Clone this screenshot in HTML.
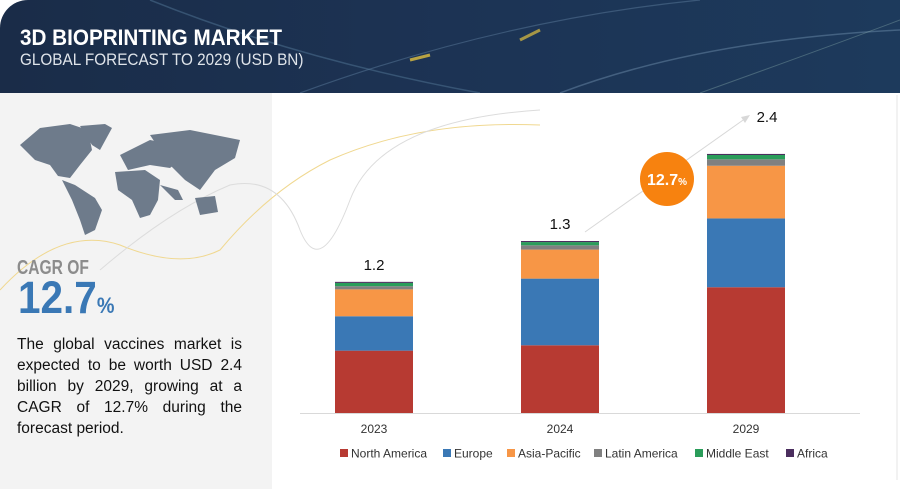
<!DOCTYPE html>
<html><head><meta charset="utf-8">
<style>
html,body{margin:0;padding:0;background:#fff;}
body{width:900px;height:489px;position:relative;overflow:hidden;font-family:"Liberation Sans",sans-serif;}
#header{position:absolute;left:0;top:0;width:900px;height:93px;background:linear-gradient(90deg,#1a2c48,#1c3354 50%,#1d3a5c);border-top-left-radius:28px;overflow:hidden;}
#left{position:absolute;left:0;top:93px;width:272px;height:396px;background:#f3f3f3;}
.t1{position:absolute;left:20px;top:25px;color:#fff;font-weight:bold;font-size:22px;transform:scaleX(0.94);transform-origin:0 0;white-space:nowrap;}
.t2{position:absolute;left:20px;top:50px;color:#dfe4ea;font-size:17px;transform:scaleX(0.9);transform-origin:0 0;white-space:nowrap;}
.cagr{position:absolute;left:17px;top:257px;color:#8c8c8c;font-size:20px;font-weight:bold;transform:scaleX(0.78);transform-origin:0 0;white-space:nowrap;}
.big{position:absolute;left:18px;top:274px;color:#3a78b5;font-size:45px;font-weight:bold;transform:scaleX(0.9);transform-origin:0 0;white-space:nowrap;line-height:48px;}
.big span{font-size:22px;}
.desc{position:absolute;left:17px;top:334px;width:225px;font-size:15.5px;line-height:21px;color:#111;text-align:justify;}
</style></head><body>
<div id="header">
<svg width="900" height="93" style="position:absolute;left:0;top:0">
<path d="M150 0 Q300 60 480 93" stroke="#4a6a8a" stroke-width="1.5" fill="none" opacity="0.6"/>
<path d="M300 93 Q500 20 700 0" stroke="#5a7a9a" stroke-width="1.2" fill="none" opacity="0.5"/>
<path d="M560 93 Q700 40 900 30" stroke="#6a8aa8" stroke-width="1.5" fill="none" opacity="0.5"/>
<path d="M700 93 Q820 50 900 20" stroke="#8aa" stroke-width="1" fill="none" opacity="0.4"/>
<path d="M410 60 L430 55" stroke="#e0c040" stroke-width="3" opacity="0.8"/>
<path d="M520 40 L540 30" stroke="#e0c040" stroke-width="3" opacity="0.7"/>
</svg>
<div class="t1">3D BIOPRINTING MARKET</div>
<div class="t2">GLOBAL FORECAST TO 2029 (USD BN)</div>
</div>
<div id="left"></div>
<svg width="900" height="489" style="position:absolute;left:0;top:0">
<path d="M0 290 Q60 225 120 245 Q180 270 220 250 Q270 190 330 160 Q420 120 540 125" stroke="#f0d890" stroke-width="1" fill="none"/>
<path d="M100 270 Q170 210 230 185 Q280 175 300 230 Q320 280 350 200 Q380 120 540 110" stroke="#dcdcdc" stroke-width="1" fill="none"/>
<g fill="#6e7b8b">
<path d="M20 145 L40 128 L70 124 L88 130 L92 150 L80 165 L70 178 L58 176 L50 165 L35 160 Z"/>
<path d="M80 126 L105 124 L112 128 L100 150 L92 145 Z"/>
<path d="M62 180 L75 185 L95 198 L102 210 L95 230 L85 235 L80 220 L72 200 Z"/>
<path d="M120 155 L150 140 L175 145 L180 160 L170 168 L150 165 L128 170 Z"/>
<path d="M150 135 L190 130 L240 140 L235 158 L215 170 L200 190 L185 180 L170 165 Z"/>
<path d="M115 172 L145 170 L160 180 L158 200 L150 215 L140 218 L132 200 L118 190 Z"/>
<path d="M195 198 L215 196 L218 212 L200 215 Z"/>
<path d="M160 185 L178 190 L183 200 L175 200 Z"/>
</g>
<line x1="585" y1="232" x2="746" y2="118" stroke="#d8d8d8" stroke-width="1"/>
<polygon points="750,115 741,117 745,123" fill="#d8d8d8"/>
<line x1="897" y1="95" x2="897" y2="480" stroke="#e6e6e6"/>
</svg>
<div class="cagr">CAGR OF</div>
<div class="big">12.7<span>%</span></div>
<div class="desc">The global vaccines market is expected to be worth USD 2.4 billion by 2029, growing at a CAGR of 12.7% during the forecast period.</div>
<svg id="chart" width="900" height="489" style="position:absolute;left:0;top:0"></svg>
<script>
const categories = ["2023","2024","2029"];
const totals = ["1.2","1.3","2.4"];
const seriesNames = ["North America","Europe","Asia-Pacific","Latin America","Middle East","Africa"];
const northAmerica = [0.58,0.63,1.17];
const europe = [0.32,0.62,0.64];
const asiaPacific = [0.25,0.27,0.49];
const latinAmerica = [0.03,0.04,0.06];
const middleEast = [0.03,0.03,0.04];
const africa = [0.01,0.01,0.01];
const colors = ["#b73a32","#3a78b5","#f79646","#808080","#2a9d5a","#4b2e5e"];
const series = [northAmerica,europe,asiaPacific,latinAmerica,middleEast,africa];
const NS="http://www.w3.org/2000/svg";
const svg=document.getElementById('chart');
const baseY=413, pxPerUnit=107.5, barW=78, x0=374, step=186;
function xScale(i){return x0+i*step;}
function yScale(v){return baseY-v*pxPerUnit;}
function mk(t,a){const e=document.createElementNS(NS,t);for(const k in a)e.setAttribute(k,a[k]);svg.appendChild(e);return e;}
const ax=mk('line',{x1:300,y1:baseY+0.5,x2:860,y2:baseY+0.5,stroke:'#d9d9d9'});


categories.forEach((c,i)=>{
  let cum=0;
  series.forEach((s,k)=>{
    const y1=yScale(cum), y2=yScale(cum+s[i]);
    const r=mk('rect',{x:xScale(i)-barW/2,y:y2,width:barW,height:y1-y2,fill:colors[k]});
    
    
    cum+=s[i];
  });
  const lx = i===2 ? xScale(i)-7 : xScale(i);
  const ly = i===2 ? 123 : yScale(cum)-12;
  const t=mk('text',{x:lx,y:ly,'text-anchor':'middle','font-size':15,fill:'#111','font-family':'Liberation Sans'});
  t.textContent= i===2 ? '' : totals[i];
  
  
  const xl=mk('text',{x:xScale(i),y:baseY+20,'text-anchor':'middle','font-size':12,fill:'#333','font-family':'Liberation Sans'});
  xl.textContent=c;
  
  
});
const t24=mk('text',{x:767,y:122,'text-anchor':'middle','font-size':15,fill:'#111','font-family':'Liberation Sans'});
t24.textContent=totals[2];


const circ=mk('circle',{cx:667,cy:179,r:27,fill:'#f7820f'});


const ct=mk('text',{x:667,y:185,'text-anchor':'middle','font-size':16,'font-weight':'bold',fill:'#fff','font-family':'Liberation Sans'});
ct.innerHTML='12.7<tspan font-size="10">%</tspan>';


const legX=[340,443,507,594,695,786];
seriesNames.forEach((n,k)=>{
  const r=mk('rect',{x:legX[k],y:449,width:8,height:8,fill:colors[k]});
  
  
  const t=mk('text',{x:legX[k]+11,y:457.5,'font-size':12,fill:'#333','font-family':'Liberation Sans'});
  t.textContent=n;
  
  
});
</script>
</body></html>
